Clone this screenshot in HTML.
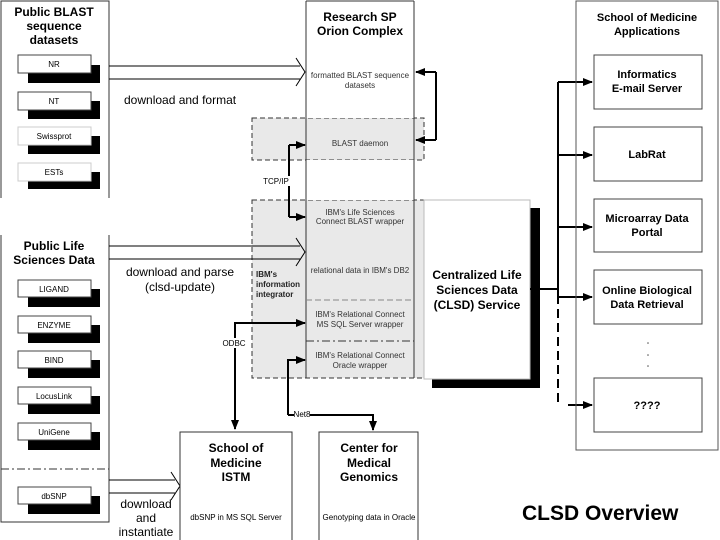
<!DOCTYPE html>
<html><head><meta charset="utf-8"><style>
html,body{margin:0;padding:0;background:#fff;}
svg{display:block;font-family:"Liberation Sans",Arial,sans-serif;}
.b{font-weight:bold;}
</style></head><body>
<svg width="720" height="540" viewBox="0 0 720 540" xmlns="http://www.w3.org/2000/svg">
<defs>
<marker id="ah" markerWidth="10" markerHeight="8" refX="9" refY="4" orient="auto" markerUnits="userSpaceOnUse"><path d="M0,0 L10,4 L0,8 Z" fill="#000"/></marker>
</defs>
<rect width="720" height="540" fill="#fff"/>
<path d="M1,198 V1 H109 V198" fill="none" stroke="#333" stroke-width="1"/>
<text x="54" y="16" font-size="12" class="b" text-anchor="middle">Public BLAST</text>
<text x="54" y="30" font-size="12" class="b" text-anchor="middle">sequence</text>
<text x="54" y="44" font-size="12" class="b" text-anchor="middle">datasets</text>
<g font-size="8" text-anchor="middle">
<rect x="28" y="65" width="72" height="18" fill="#000"/><rect x="18" y="55" width="73" height="18" fill="#fff" stroke="#444"/><text x="54" y="67">NR</text>
<rect x="28" y="101" width="72" height="18" fill="#000"/><rect x="18" y="92" width="73" height="18" fill="#fff" stroke="#444"/><text x="54" y="104">NT</text>
<rect x="28" y="136" width="72" height="18" fill="#000"/><rect x="18" y="127" width="73" height="18" fill="#fff" stroke="#ccc"/><text x="54" y="139">Swissprot</text>
<rect x="28" y="172" width="72" height="17" fill="#000"/><rect x="18" y="163" width="73" height="18" fill="#fff" stroke="#ccc"/><text x="54" y="175">ESTs</text>
</g>
<path d="M1,235 V522 H109 V235" fill="none" stroke="#333"/>
<text x="54" y="250" font-size="12" class="b" text-anchor="middle">Public Life</text>
<text x="54" y="264" font-size="12" class="b" text-anchor="middle">Sciences Data</text>
<g font-size="8" text-anchor="middle">
<rect x="28" y="289" width="72" height="18" fill="#000"/><rect x="18" y="280" width="73" height="17" fill="#fff" stroke="#444"/><text x="54" y="292">LIGAND</text>
<rect x="28" y="325" width="72" height="18" fill="#000"/><rect x="18" y="316" width="73" height="17" fill="#fff" stroke="#444"/><text x="54" y="328">ENZYME</text>
<rect x="28" y="360" width="72" height="18" fill="#000"/><rect x="18" y="351" width="73" height="17" fill="#fff" stroke="#444"/><text x="54" y="363">BIND</text>
<rect x="28" y="396" width="72" height="18" fill="#000"/><rect x="18" y="387" width="73" height="17" fill="#fff" stroke="#444"/><text x="54" y="399">LocusLink</text>
<rect x="28" y="432" width="72" height="18" fill="#000"/><rect x="18" y="423" width="73" height="17" fill="#fff" stroke="#444"/><text x="54" y="435">UniGene</text>
<rect x="28" y="496" width="72" height="18" fill="#000"/><rect x="18" y="487" width="73" height="17" fill="#fff" stroke="#444"/><text x="54" y="499">dbSNP</text>
</g>
<line x1="1" y1="469" x2="109" y2="469" stroke="#333" stroke-dasharray="8,3,2,3"/>
<rect x="252" y="118" width="172" height="42" fill="#e9e9e9" stroke="#333" stroke-dasharray="5,3"/>
<rect x="252" y="200" width="172" height="178" fill="#e9e9e9" stroke="#333" stroke-dasharray="5,3"/>
<rect x="306" y="1" width="108" height="117" fill="#fff"/>
<rect x="306" y="160" width="108" height="40" fill="#fff"/>
<line x1="306" y1="1" x2="414" y2="1" stroke="#333"/>
<line x1="306" y1="1" x2="306" y2="378" stroke="#333"/>
<line x1="414" y1="1" x2="414" y2="378" stroke="#333"/>
<line x1="306" y1="300" x2="414" y2="300" stroke="#888" stroke-dasharray="6,3"/>
<line x1="306" y1="341" x2="414" y2="341" stroke="#333" stroke-dasharray="8,3,2,3"/>
<text x="360" y="21" font-size="12" class="b" text-anchor="middle">Research SP</text>
<text x="360" y="35" font-size="12" class="b" text-anchor="middle">Orion Complex</text>
<g font-size="8" text-anchor="middle" fill="#333">
<text x="360" y="78">formatted BLAST sequence</text>
<text x="360" y="88">datasets</text>
<text x="360" y="146">BLAST daemon</text>
<text x="360" y="215">IBM's Life Sciences</text>
<text x="360" y="224">Connect BLAST wrapper</text>
<text x="360" y="273">relational data in IBM's DB2</text>
<text x="360" y="317">IBM's Relational Connect</text>
<text x="360" y="327">MS SQL Server wrapper</text>
<text x="360" y="358">IBM's Relational Connect</text>
<text x="360" y="368">Oracle wrapper</text>
</g>
<g font-size="8" class="b" fill="#222"><text x="256" y="277">IBM's</text><text x="256" y="287">information</text><text x="256" y="297">integrator</text></g>
<rect x="432" y="208" width="108" height="180" fill="#000"/>
<rect x="424" y="200" width="106" height="179" fill="#fff" stroke="#bbb"/>
<g font-size="12" class="b" text-anchor="middle"><text x="477" y="279">Centralized Life</text><text x="477" y="294">Sciences Data</text><text x="477" y="309">(CLSD) Service</text></g>
<g fill="none" stroke="#000" stroke-width="1">
<path d="M109,66 H300 M109,79 H300 M296,58 L305,72 L296,86"/>
<path d="M109,246 H300 M109,259 H300 M296,238 L305,252 L296,266"/>
<path d="M109,480 H175 M109,493 H175 M171,472 L180,486 L171,500"/>
</g>
<text x="124" y="104" font-size="12">download and format</text>
<g font-size="12" text-anchor="middle"><text x="180" y="276">download and parse</text><text x="180" y="291">(clsd-update)</text>
<text x="146" y="508">download</text><text x="146" y="522">and</text><text x="146" y="536">instantiate</text></g>
<g fill="none" stroke="#000" stroke-width="2">
<path d="M436,72 V140" />
<line x1="436" y1="72" x2="416" y2="72" marker-end="url(#ah)"/>
<line x1="436" y1="140" x2="416" y2="140" marker-end="url(#ah)"/>
<path d="M289,145 V217"/>
<line x1="289" y1="145" x2="305" y2="145" marker-end="url(#ah)"/>
<line x1="289" y1="217" x2="305" y2="217" marker-end="url(#ah)"/>
<path d="M305,323 H235 V429" marker-end="url(#ah)"/>
<line x1="235" y1="323" x2="305" y2="323" marker-end="url(#ah)"/>
<path d="M288,415 V360 H305" marker-end="url(#ah)"/>
<path d="M288,415 H373 V430" marker-end="url(#ah)"/>
<path d="M530,289 H558 V295"/>
<path d="M558,82 V295"/>
<path d="M558,295 V405" stroke-dasharray="9,5"/>
<line x1="558" y1="82" x2="592" y2="82" marker-end="url(#ah)"/>
<line x1="558" y1="155" x2="592" y2="155" marker-end="url(#ah)"/>
<line x1="558" y1="227" x2="592" y2="227" marker-end="url(#ah)"/>
<line x1="558" y1="297" x2="592" y2="297" marker-end="url(#ah)"/>
<line x1="568" y1="405" x2="592" y2="405" marker-end="url(#ah)"/>
</g>
<rect x="262" y="176" width="28" height="10" fill="#fff"/>
<text x="276" y="184" font-size="8" text-anchor="middle">TCP/IP</text>
<rect x="220" y="338" width="28" height="10" fill="#fff"/>
<text x="234" y="346" font-size="8" text-anchor="middle">ODBC</text>
<rect x="294" y="409" width="16" height="10" fill="#fff"/>
<text x="302" y="417" font-size="8" text-anchor="middle">Net8</text>
<path d="M180,540 V432 H292 V540" fill="none" stroke="#333"/>
<g font-size="12" class="b" text-anchor="middle"><text x="236" y="452">School of</text><text x="236" y="467">Medicine</text><text x="236" y="481">ISTM</text>
<text x="369" y="452">Center for</text><text x="369" y="467">Medical</text><text x="369" y="481">Genomics</text></g>
<text x="236" y="520" font-size="8" text-anchor="middle">dbSNP in MS SQL Server</text>
<path d="M319,540 V432 H418 V540" fill="none" stroke="#333"/>
<text x="369" y="520" font-size="8" text-anchor="middle">Genotyping data in Oracle</text>
<rect x="576" y="1" width="142" height="449" fill="none" stroke="#555"/>
<g font-size="11" class="b" text-anchor="middle"><text x="647" y="21">School of Medicine</text><text x="647" y="35">Applications</text></g>
<g fill="none" stroke="#444">
<rect x="594" y="55" width="108" height="54"/><rect x="594" y="127" width="108" height="54"/><rect x="594" y="199" width="108" height="53"/><rect x="594" y="270" width="108" height="54"/><rect x="594" y="378" width="108" height="54"/>
</g>
<g font-size="11" class="b" text-anchor="middle">
<text x="647" y="78">Informatics</text><text x="647" y="92">E-mail Server</text>
<text x="647" y="158">LabRat</text>
<text x="647" y="222">Microarray Data</text><text x="647" y="236">Portal</text>
<text x="647" y="294">Online Biological</text><text x="647" y="308">Data Retrieval</text>
<text x="647" y="409">????</text>
</g>
<g fill="#555"><circle cx="648" cy="343" r="0.8"/><circle cx="648" cy="355" r="0.8"/><circle cx="648" cy="366" r="0.8"/></g>
<text x="522" y="520" font-size="21" class="b">CLSD Overview</text>
</svg>
</body></html>
